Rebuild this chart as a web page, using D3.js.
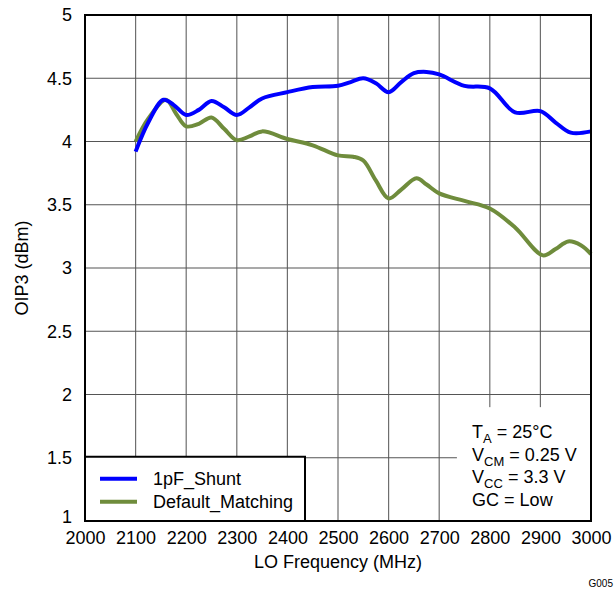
<!DOCTYPE html>
<html>
<head>
<meta charset="utf-8">
<script src="https://cdn.jsdelivr.net/npm/d3@7"></script>
<style>
  body { margin: 0; background: #fff; }
  text { font-family: "Liberation Sans", Arial, sans-serif; fill: #000; }
</style>
</head>
<body>
<div id="chart"></div>
<script>
// LO frequency (MHz) and OIP3 (dBm)
const shuntFreq = [2100, 2125, 2155, 2175, 2200, 2225, 2250, 2275, 2300, 2325, 2350, 2400, 2450, 2500, 2525, 2550, 2575, 2600, 2625, 2650, 2675, 2700, 2750, 2800, 2850, 2900, 2930, 2960, 3000];
const shuntVals = [3.92, 4.15, 4.33, 4.29, 4.21, 4.25, 4.32, 4.27, 4.21, 4.27, 4.34, 4.39, 4.43, 4.44, 4.47, 4.50, 4.46, 4.39, 4.47, 4.54, 4.55, 4.53, 4.44, 4.42, 4.23, 4.24, 4.15, 4.07, 4.08];

const defFreq = [2100, 2125, 2160, 2180, 2200, 2225, 2250, 2275, 2300, 2325, 2350, 2400, 2450, 2500, 2530, 2550, 2575, 2600, 2625, 2655, 2675, 2700, 2750, 2800, 2850, 2905, 2930, 2955, 2980, 3000];
const defVals = [4.00, 4.18, 4.33, 4.22, 4.12, 4.14, 4.19, 4.10, 4.01, 4.04, 4.08, 4.02, 3.97, 3.89, 3.88, 3.85, 3.69, 3.55, 3.62, 3.71, 3.66, 3.59, 3.53, 3.47, 3.32, 3.10, 3.15, 3.21, 3.18, 3.11];

const seriesNames = ["1pF_Shunt", "Default_Matching"];
const seriesColors = ["#0000ff", "#6f8c3c"];

const xTicks = [2000, 2100, 2200, 2300, 2400, 2500, 2600, 2700, 2800, 2900, 3000];
const yTicks = [1, 1.5, 2, 2.5, 3, 3.5, 4, 4.5, 5];

const condLines = [
  ["T", "A", " = 25°C"],
  ["V", "CM", " = 0.25 V"],
  ["V", "CC", " = 3.3 V"],
  ["GC = Low", "", ""]
];

const width = 615, height = 592;
const margin = {top: 15, right: 24, bottom: 71, left: 85};
const w = width - margin.left - margin.right;
const h = height - margin.top - margin.bottom;
const fs = "18px";

const svg = d3.select("#chart").append("svg")
  .attr("width", width)
  .attr("height", height);

const g = svg.append("g")
  .attr("transform", "translate(" + margin.left + "," + margin.top + ")");

const x = d3.scaleLinear().domain([2000, 3000]).range([0, w]);
const y = d3.scaleLinear().domain([1, 5]).range([h, 0]);

// grid
g.selectAll(".vgrid").data(xTicks.slice(1, -1)).enter().append("line")
  .attr("x1", d => x(d)).attr("x2", d => x(d))
  .attr("y1", 0).attr("y2", h)
  .attr("stroke", "#6e6e6e").attr("stroke-width", 1.2);
g.selectAll(".hgrid").data(yTicks.slice(1, -1)).enter().append("line")
  .attr("x1", 0).attr("x2", w)
  .attr("y1", d => y(d)).attr("y2", d => y(d))
  .attr("stroke", "#555").attr("stroke-width", 1.2);

// axes (labels only)
const xAxis = d3.axisBottom(x).tickValues(xTicks).tickSize(0).tickPadding(10).tickFormat(d3.format("d"));
const yAxis = d3.axisLeft(y).tickValues(yTicks).tickSize(0).tickPadding(13).tickFormat(d => d);

const gx = g.append("g").attr("transform", "translate(0," + h + ")").call(xAxis);
const gy = g.append("g").call(yAxis);
[gx, gy].forEach(a => {
  a.select(".domain").remove();
  a.selectAll("text").style("font-size", fs).attr("font-family", "Liberation Sans, Arial, sans-serif");
});
// bottom y label sits a touch higher, as in the reference
gy.selectAll(".tick").filter(d => d === 1).select("text").attr("dy", "0.1em");

// lines
const line = d3.line()
  .x(d => x(d[0])).y(d => y(d[1]))
  .curve(d3.curveCatmullRom.alpha(0.5));

const series = [
  d3.zip(defFreq, defVals),
  d3.zip(shuntFreq, shuntVals)
];
const seriesColor = [seriesColors[1], seriesColors[0]];

g.selectAll(".series").data(series).enter().append("path")
  .attr("d", line)
  .attr("fill", "none")
  .attr("stroke", (d, i) => seriesColor[i])
  .attr("stroke-width", 4)
  .attr("stroke-linejoin", "round")
  .attr("stroke-linecap", "butt");

// conditions box (white, covers grid)
const cx0 = x(2735);
g.append("rect")
  .attr("x", cx0).attr("y", y(1.9))
  .attr("width", w - cx0).attr("height", h - y(1.9))
  .attr("fill", "#fff");

const cond = g.append("g").attr("transform", "translate(" + (x(2765)) + "," + (y(1.9) + 31) + ")");
condLines.forEach((c, i) => {
  const t = cond.append("text").attr("y", i * 22.5).style("font-size", fs);
  t.append("tspan").text(c[0]);
  if (c[1]) {
    t.append("tspan").text(c[1]).style("font-size", "13px").attr("dy", 5);
    t.append("tspan").text(c[2]).attr("dy", -5);
  }
});

// legend
const legW = 220, legH = h - y(1.5) + 1;
const leg = g.append("g").attr("transform", "translate(0," + (h - legH) + ")");
leg.append("rect")
  .attr("width", legW).attr("height", legH)
  .attr("fill", "#fff").attr("stroke", "#000").attr("stroke-width", 2);
seriesNames.forEach((n, i) => {
  const yy = 22 + i * 23;
  leg.append("line")
    .attr("x1", 15).attr("x2", 52).attr("y1", yy).attr("y2", yy)
    .attr("stroke", seriesColors[i]).attr("stroke-width", 4);
  leg.append("text").attr("x", 68).attr("y", yy + 6).style("font-size", fs).text(n);
});

// frame
g.append("rect")
  .attr("width", w).attr("height", h)
  .attr("fill", "none").attr("stroke", "#000").attr("stroke-width", 2);

// titles
svg.append("text")
  .attr("x", margin.left + w / 2).attr("y", 568)
  .attr("text-anchor", "middle").style("font-size", fs)
  .text("LO Frequency (MHz)");
svg.append("text")
  .attr("transform", "translate(28," + (margin.top + h / 2) + ") rotate(-90)")
  .attr("text-anchor", "middle").style("font-size", fs)
  .text("OIP3 (dBm)");
svg.append("text")
  .attr("x", 613).attr("y", 587)
  .attr("text-anchor", "end").style("font-size", "10px")
  .text("G005");
</script>
</body>
</html>
